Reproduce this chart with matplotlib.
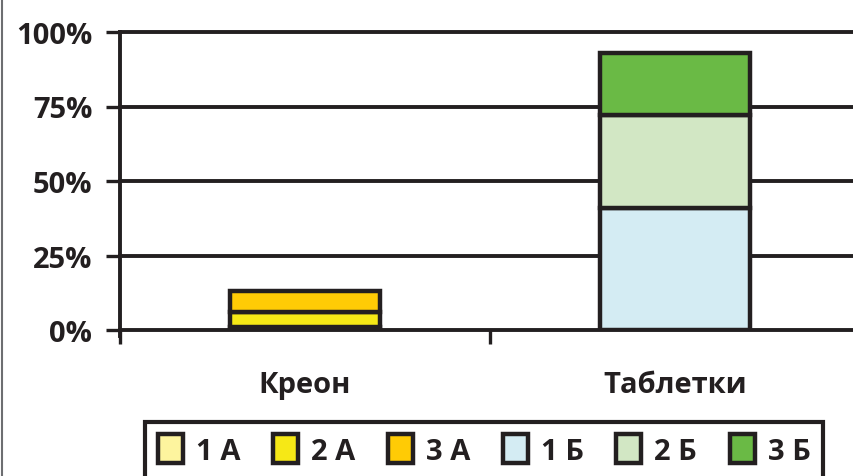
import matplotlib
matplotlib.use("Agg")
import matplotlib.pyplot as plt
import numpy as np
from matplotlib.patches import Patch, Rectangle
from matplotlib.lines import Line2D

# данные (доли пациентов, %)
categories = ["Креон", "Таблетки"]
series_names = ["1 А", "2 А", "3 А", "1 Б", "2 Б", "3 Б"]
s_1a = [1, 0]
s_2a = [5, 0]
s_3a = [7, 0]
s_1b = [0, 41]
s_2b = [0, 31]
s_3b = [0, 21]
yticks = [0, 25, 50, 75, 100]

colors = ["#fdf49e", "#f6e816", "#ffcb05", "#d4ecf3", "#d2e7c4", "#6aba45"]
DARK = "#231f20"
FS = 21

plt.rcParams["font.family"] = ["Open Sans", "DejaVu Sans"]
plt.rcParams["font.weight"] = "bold"

fig = plt.figure(figsize=(8.54, 4.77), dpi=100)
ax = fig.add_axes([120 / 854, 1 - 331 / 477, 740 / 854, 298 / 477])

x = np.arange(len(categories))
bottom = np.zeros(len(categories))
for vals, col in zip([s_1a, s_2a, s_3a, s_1b, s_2b, s_3b], colors):
    v = np.array(vals, dtype=float)
    mask = v > 0
    ax.bar(x[mask], v[mask], bottom=bottom[mask], width=0.405, color=col,
           edgecolor=DARK, linewidth=3.2, zorder=3)
    bottom += v

ax.set_xlim(-0.5, 1.5)
ax.set_ylim(0, 100)
ax.set_yticks(yticks)
ax.set_yticklabels([f"{t}%" for t in yticks], fontsize=FS, color=DARK, fontweight="bold")
for t in yticks[1:]:
    ax.axhline(t, color=DARK, lw=2.8, zorder=1, clip_on=False)

ax.set_xticks([-0.5, 0.5, 1.5])
ax.set_xticklabels([])
ax.set_xticks(x, minor=True)
ax.set_xticklabels(categories, minor=True, fontsize=FS, color=DARK, fontweight="bold")
ax.tick_params(axis="x", which="major", direction="out", length=10, width=2.4, color=DARK)
ax.tick_params(axis="x", which="minor", length=0, pad=29)
ax.tick_params(axis="y", direction="out", length=10, width=2.4, color=DARK, pad=10)

for side in ("top", "right"):
    ax.spines[side].set_visible(False)
for side in ("left", "bottom"):
    ax.spines[side].set_color(DARK)
    ax.spines[side].set_linewidth(2.8)
ax.spines["left"].set_bounds(-2, 100)

# рамка слева
fig.add_artist(Line2D([2 / 854, 2 / 854], [0, 1], color="#6d6e71", lw=1.5))

# легенда
handles = [Patch(facecolor=c, edgecolor=DARK, linewidth=3.2) for c in colors]
leg = fig.legend(handles, series_names, ncol=6, loc="center left",
                 bbox_to_anchor=(158 / 854, 1 - 451 / 477), frameon=False,
                 fontsize=FS, handlelength=0.85, handleheight=1.15,
                 handletextpad=0.45, columnspacing=1.12, borderpad=0,
                 borderaxespad=0)
for t in leg.get_texts():
    t.set_color(DARK)
    t.set_fontweight("bold")
fig.add_artist(Rectangle((145 / 854, -0.05), (823 - 145) / 854, 1 - 423 / 477 + 0.05,
                         transform=fig.transFigure, fill=False, edgecolor=DARK,
                         lw=3, clip_on=False))

fig.savefig("out.png", dpi=100)
